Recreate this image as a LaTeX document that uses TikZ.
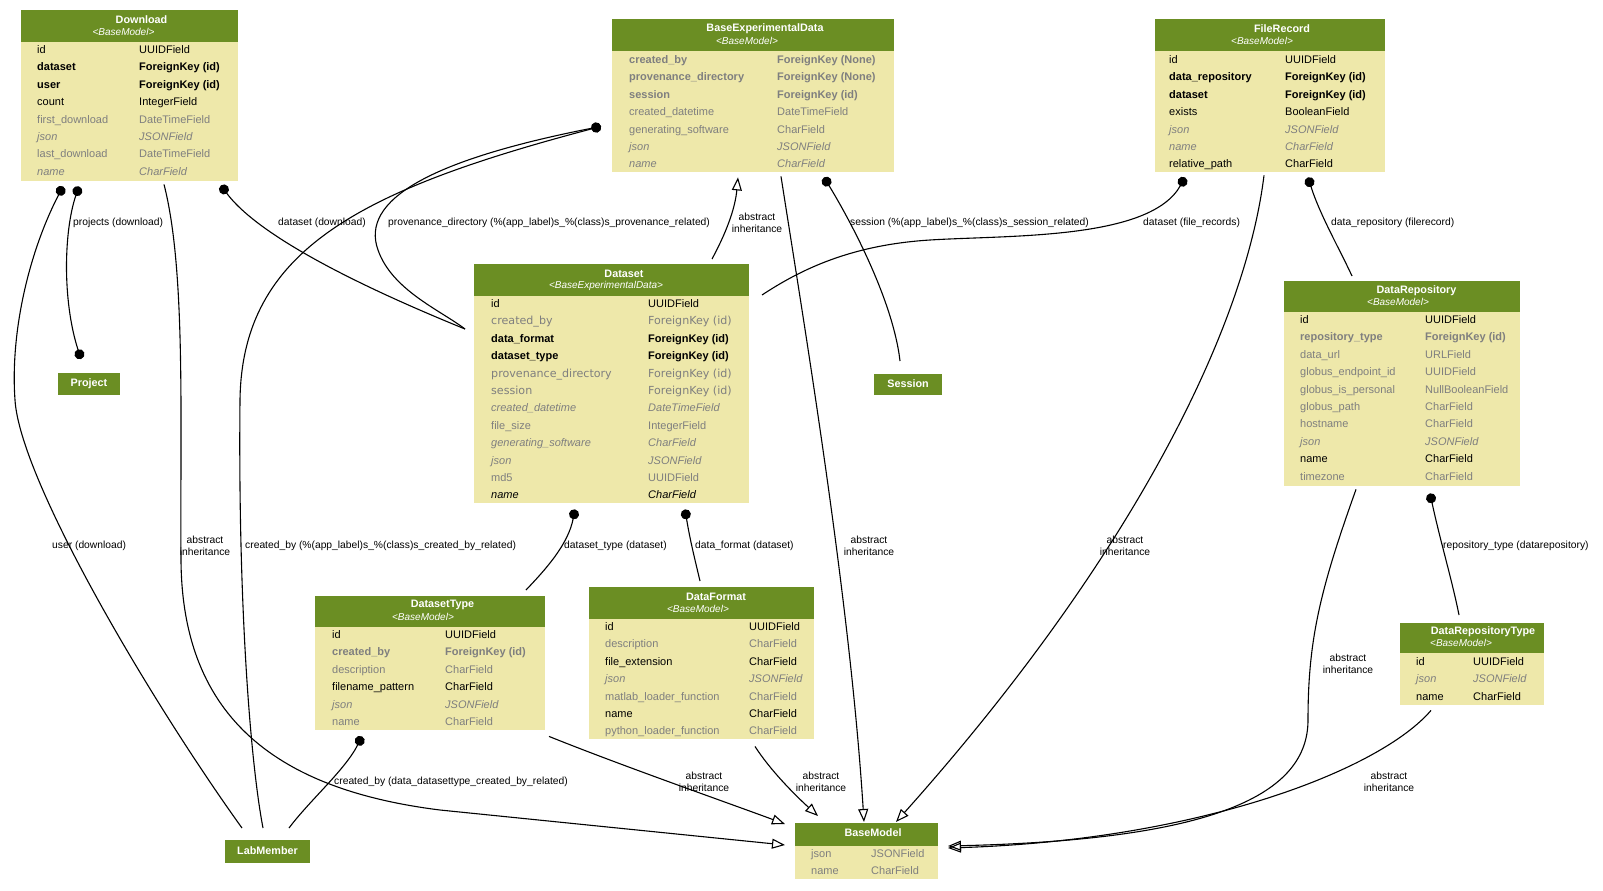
\documentclass[tikz,border=0pt]{standalone}
\usepackage{fontspec}
\setmainfont{Liberation Sans}
\newfontfamily\dvsans{DejaVu Sans}
\usetikzlibrary{arrows.meta}
\definecolor{hdrgreen}{HTML}{6B8E23}
\definecolor{bodyyel}{HTML}{EEE8AA}
\definecolor{tgrey}{HTML}{7F7F7F}
\newcommand{\tblfont}{\fontsize{11}{13}\selectfont}
\newcommand{\lblfont}{\fontsize{10.3}{12}\selectfont}
\newcounter{rw}
\newcommand{\frow}[6]{\stepcounter{rw}%
  \node[#4] (r\arabic{rw}a) at (#1,#3+2.5) {#5};%
  \node[#4] (r\arabic{rw}b) at (#2,#3+2.5) {#6};}
\tikzset{
  bdy/.style={fill=bodyyel, draw=none, inner sep=0pt, anchor=north west},
  hdr/.style={fill=hdrgreen, draw=none, inner sep=0pt, anchor=north west},
  ttl/.style={text=white, font=\fontsize{10.8}{12}\selectfont\bfseries, inner sep=0pt},
  sbt/.style={text=white, font=\fontsize{10}{12}\selectfont\itshape, inner sep=0pt},
  fld/.style={anchor=west, inner sep=0pt, text height=8pt, text depth=2.2pt},
  fk/.style={fld, font=\tblfont, text=black},
  fkb/.style={fld, font=\tblfont\bfseries, text=black},
  fki/.style={fld, font=\tblfont\itshape, text=black},
  fg/.style={fld, font=\tblfont, text=tgrey},
  fgi/.style={fld, font=\tblfont\itshape, text=tgrey},
  fgb/.style={fld, font=\tblfont\bfseries, text=tgrey},
  fdv/.style={fld, font=\dvsans\fontsize{11.1}{13}\selectfont, text=tgrey},
  conn/.style={draw=black, line width=1.1pt},
  inh/.style={-{Triangle[open,length=13pt,width=10pt]}},
  dotS/.style={{Circle[length=10pt]}-},
  dotE/.style={-{Circle[length=10pt]}},
  dotB/.style={{Circle[length=10pt]}-{Circle[length=10pt]}},
  elab/.style={font=\lblfont, inner sep=0pt, align=center},
  elw/.style={elab, anchor=west},
}
\begin{document}
\begin{tikzpicture}[x=1pt,y=-1pt]
\useasboundingbox[fill=white] (0,0) rectangle (1603,891);

% ---------- Download ----------
\node[bdy,minimum width=217pt,minimum height=171pt] (dl) at (21,10) {};
\node[hdr,minimum width=217pt,minimum height=32pt] (dlh) at (21,10) {};
\node[ttl] (dlt) at (141.5,19.5) {Download};
\node[sbt] (dls) at (123.5,31.5) {<BaseModel>};
\frow{37}{139}{48}{fk}{id}{UUIDField}
\frow{37}{139}{65.4}{fkb}{dataset}{ForeignKey (id)}
\frow{37}{139}{82.8}{fkb}{user}{ForeignKey (id)}
\frow{37}{139}{100.2}{fk}{count}{IntegerField}
\frow{37}{139}{117.6}{fg}{first\_download}{DateTimeField}
\frow{37}{139}{135}{fgi}{json}{JSONField}
\frow{37}{139}{152.4}{fg}{last\_download}{DateTimeField}
\frow{37}{139}{169.8}{fgi}{name}{CharField}

% ---------- BaseExperimentalData ----------
\node[bdy,minimum width=282pt,minimum height=153pt] (bed) at (612,19) {};
\node[hdr,minimum width=282pt,minimum height=32pt] (bedh) at (612,19) {};
\node[ttl] (bedt) at (765,28.5) {BaseExperimentalData};
\node[sbt] (beds) at (747,40.5) {<BaseModel>};
\frow{629}{777}{58}{fgb}{created\_by}{ForeignKey (None)}
\frow{629}{777}{75.4}{fgb}{provenance\_directory}{ForeignKey (None)}
\frow{629}{777}{92.8}{fgb}{session}{ForeignKey (id)}
\frow{629}{777}{110.2}{fg}{created\_datetime}{DateTimeField}
\frow{629}{777}{127.6}{fg}{generating\_software}{CharField}
\frow{629}{777}{145}{fgi}{json}{JSONField}
\frow{629}{777}{162.4}{fgi}{name}{CharField}

% ---------- FileRecord ----------
\node[bdy,minimum width=230pt,minimum height=153pt] (fr) at (1155,19) {};
\node[hdr,minimum width=230pt,minimum height=32pt] (frh) at (1155,19) {};
\node[ttl] (frt) at (1282,29) {FileRecord};
\node[sbt] (frs) at (1262,41) {<BaseModel>};
\frow{1169}{1285}{58}{fk}{id}{UUIDField}
\frow{1169}{1285}{75.4}{fkb}{data\_repository}{ForeignKey (id)}
\frow{1169}{1285}{92.8}{fkb}{dataset}{ForeignKey (id)}
\frow{1169}{1285}{110.2}{fk}{exists}{BooleanField}
\frow{1169}{1285}{127.6}{fgi}{json}{JSONField}
\frow{1169}{1285}{145}{fgi}{name}{CharField}
\frow{1169}{1285}{162.4}{fk}{relative\_path}{CharField}

% ---------- Dataset ----------
\node[bdy,minimum width=275pt,minimum height=239pt] (ds) at (474,264) {};
\node[hdr,minimum width=275pt,minimum height=32pt] (dsh) at (474,264) {};
\node[ttl] (dst0) at (624,274) {Dataset};
\node[sbt] (dss) at (606,285.5) {<BaseExperimentalData>};
\frow{491}{648}{302}{fk}{id}{UUIDField}
\frow{491}{648}{319.4}{fdv}{created\_by}{ForeignKey (id)}
\frow{491}{648}{336.8}{fkb}{data\_format}{ForeignKey (id)}
\frow{491}{648}{354.2}{fkb}{dataset\_type}{ForeignKey (id)}
\frow{491}{648}{371.6}{fdv}{provenance\_directory}{ForeignKey (id)}
\frow{491}{648}{389}{fdv}{session}{ForeignKey (id)}
\frow{491}{648}{406.4}{fgi}{created\_datetime}{DateTimeField}
\frow{491}{648}{423.8}{fg}{file\_size}{IntegerField}
\frow{491}{648}{441.2}{fgi}{generating\_software}{CharField}
\frow{491}{648}{458.6}{fgi}{json}{JSONField}
\frow{491}{648}{476}{fg}{md5}{UUIDField}
\frow{491}{648}{493.4}{fki}{name}{CharField}

% ---------- DataRepository ----------
\node[bdy,minimum width=236pt,minimum height=205pt] (drp) at (1284,281) {};
\node[hdr,minimum width=236pt,minimum height=31pt] (drph) at (1284,281) {};
\node[ttl] (drpt) at (1416.5,290.5) {DataRepository};
\node[sbt] (drps) at (1398,302) {<BaseModel>};
\frow{1300}{1425}{318}{fk}{id}{UUIDField}
\frow{1300}{1425}{335.4}{fgb}{repository\_type}{ForeignKey (id)}
\frow{1300}{1425}{352.8}{fg}{data\_url}{URLField}
\frow{1300}{1425}{370.2}{fg}{globus\_endpoint\_id}{UUIDField}
\frow{1300}{1425}{387.6}{fg}{globus\_is\_personal}{NullBooleanField}
\frow{1300}{1425}{405}{fg}{globus\_path}{CharField}
\frow{1300}{1425}{422.4}{fg}{hostname}{CharField}
\frow{1300}{1425}{439.8}{fgi}{json}{JSONField}
\frow{1300}{1425}{457.2}{fk}{name}{CharField}
\frow{1300}{1425}{474.6}{fg}{timezone}{CharField}

% ---------- DatasetType ----------
\node[bdy,minimum width=230pt,minimum height=134pt] (dst) at (315,596) {};
\node[hdr,minimum width=230pt,minimum height=31pt] (dsth) at (315,596) {};
\node[ttl] (dstt) at (442.5,605) {DatasetType};
\node[sbt] (dsts) at (423,616.5) {<BaseModel>};
\frow{332}{445}{633}{fk}{id}{UUIDField}
\frow{332}{445}{650.4}{fgb}{created\_by}{ForeignKey (id)}
\frow{332}{445}{667.8}{fg}{description}{CharField}
\frow{332}{445}{685.2}{fk}{filename\_pattern}{CharField}
\frow{332}{445}{702.6}{fgi}{json}{JSONField}
\frow{332}{445}{720}{fg}{name}{CharField}

% ---------- DataFormat ----------
\node[bdy,minimum width=225pt,minimum height=152pt] (dfm) at (589,587) {};
\node[hdr,minimum width=225pt,minimum height=32pt] (dfmh) at (589,587) {};
\node[ttl] (dfmt) at (716,597) {DataFormat};
\node[sbt] (dfms) at (698,608.5) {<BaseModel>};
\frow{605}{749}{625}{fk}{id}{UUIDField}
\frow{605}{749}{642.4}{fg}{description}{CharField}
\frow{605}{749}{659.8}{fk}{file\_extension}{CharField}
\frow{605}{749}{677.2}{fgi}{json}{JSONField}
\frow{605}{749}{694.6}{fg}{matlab\_loader\_function}{CharField}
\frow{605}{749}{712}{fk}{name}{CharField}
\frow{605}{749}{729.4}{fg}{python\_loader\_function}{CharField}

% ---------- DataRepositoryType ----------
\node[bdy,minimum width=144pt,minimum height=82pt] (drt) at (1400,623) {};
\node[hdr,minimum width=144pt,minimum height=30pt] (drth) at (1400,623) {};
\node[ttl] (drtt) at (1483,632) {DataRepositoryType};
\node[sbt] (drts) at (1461,643) {<BaseModel>};
\frow{1416}{1473}{660}{fk}{id}{UUIDField}
\frow{1416}{1473}{677.4}{fgi}{json}{JSONField}
\frow{1416}{1473}{694.8}{fk}{name}{CharField}

% ---------- BaseModel ----------
\node[bdy,minimum width=143pt,minimum height=56pt] (bm) at (795,823) {};
\node[hdr,minimum width=143pt,minimum height=23pt] (bmh) at (795,823) {};
\node[ttl] (bmt) at (873,833) {BaseModel};
\frow{811}{871}{852}{fg}{json}{JSONField}
\frow{811}{871}{869}{fg}{name}{CharField}

% ---------- simple nodes ----------
\node[hdr,minimum width=62pt,minimum height=22pt] (prj) at (58,373) {};
\node[ttl] (prjt) at (89,384) {Project};
\node[hdr,minimum width=68pt,minimum height=21pt] (ses) at (874,374) {};
\node[ttl] (sest) at (908,384) {Session};
\node[hdr,minimum width=85pt,minimum height=23pt] (lm) at (225,840) {};
\node[ttl] (lmt) at (267.5,851) {LabMember};

% ---------- connectors ----------
\draw[conn,dotB] ([shift={(58,5)}]dl.south west) .. controls (64,230) and (62,300) .. ([shift={(23,-14)}]prj.north west);
\draw[conn,dotS] ([shift={(42,5)}]dl.south west) .. controls (30,250) and (10,330) .. (15,400) .. controls (20,480) and (150,700) .. ([shift={(17,-12)}]lm.north west);
\draw[conn,inh] ([shift={(143,3)}]dl.south west) .. controls (186,270) and (180,420) .. (181,560) .. controls (182,720) and (280,790) .. (440,810) -- ([shift={(-10,22)}]bm.north west);
\draw[conn,dotS] ([shift={(200,4)}]dl.south west) .. controls (250,225) and (320,270) .. ([shift={(-9,65)}]ds.north west);
\draw[conn,dotS] ([shift={(-11,-46)}]bed.south west) .. controls (430,160) and (360,200) .. (378,250) .. controls (392,290) and (440,310) .. ([shift={(-9,65)}]ds.north west);
\draw[conn,dotS] ([shift={(-11,-46)}]bed.south west) .. controls (360,190) and (242,250) .. (240,400) .. controls (238,600) and (250,760) .. ([shift={(38,-12)}]lm.north west);
\draw[conn,inh] ([shift={(238,-5)}]ds.north west) .. controls (725,235) and (735,210) .. ([shift={(126,5)}]bed.south west);
\draw[conn,inh] ([shift={(169,4)}]bed.south west) .. controls (805,330) and (850,600) .. ([shift={(69,-1)}]bm.north west);
\draw[conn,dotS] ([shift={(212,5)}]bed.south west) .. controls (850,220) and (893,300) .. ([shift={(26,-13)}]ses.north west);
\draw[conn,dotS] ([shift={(30,5)}]fr.south west) .. controls (1150,240) and (1010,235) .. (930,240) .. controls (850,245) and (800,270) .. ([shift={(288,31)}]ds.north west);
\draw[conn,inh] ([shift={(109,3)}]fr.south west) .. controls (1245,330) and (1130,560) .. ([shift={(101,-1)}]bm.north west);
\draw[conn,dotS] ([shift={(153,5)}]fr.south west) .. controls (1320,215) and (1340,250) .. ([shift={(68,-5)}]drp.north west);
\draw[conn,inh] ([shift={(72,3)}]drp.south west) .. controls (1320,590) and (1308,640) .. (1308,720) .. controls (1308,800) and (1200,840) .. ([shift={(153,23)}]bm.north west);
\draw[conn,dotS] ([shift={(146,7)}]drp.south west) .. controls (1440,540) and (1452,580) .. ([shift={(59,-8)}]drt.north west);
\draw[conn,inh] ([shift={(31,5)}]drt.south west) .. controls (1380,770) and (1200,840) .. ([shift={(153,25)}]bm.north west);
\draw[conn,dotS] ([shift={(101,6)}]ds.south west) .. controls (568,545) and (545,570) .. ([shift={(211,-6)}]dst.north west);
\draw[conn,dotS] ([shift={(211,6)}]ds.south west) .. controls (690,540) and (695,560) .. ([shift={(111,-6)}]dfm.north west);
\draw[conn,inh] ([shift={(234,6)}]dst.south west) .. controls (620,765) and (720,800) .. ([shift={(-10,1)}]bm.north west);
\draw[conn,inh] ([shift={(166,7)}]dfm.south west) .. controls (770,770) and (795,795) .. ([shift={(23,-7)}]bm.north west);
\draw[conn,dotE] ([shift={(64,-12)}]lm.north west) .. controls (310,800) and (345,770) .. ([shift={(47,6)}]dst.south west);

% ---------- connector labels ----------
\node[elw] (l1) at (73,223) {projects (download)};
\node[elw] (l2) at (52,546) {user (download)};
\node[elab] (l3) at (205,545.5) {abstract\\inheritance};
\node[elw] (l4) at (278,223) {dataset (download)};
\node[elw] (l5) at (388,223) {provenance\_directory (\%(app\_label)s\_\%(class)s\_provenance\_related)};
\node[elw] (l6) at (245,546) {created\_by (\%(app\_label)s\_\%(class)s\_created\_by\_related)};
\node[elab] (l7) at (757,222.5) {abstract\\inheritance};
\node[elab] (l8) at (869,545.5) {abstract\\inheritance};
\node[elw] (l9) at (850,223) {session (\%(app\_label)s\_\%(class)s\_session\_related)};
\node[elw] (l10) at (1143,223) {dataset (file\_records)};
\node[elab] (l11) at (1125,545.5) {abstract\\inheritance};
\node[elw] (l12) at (1331,223) {data\_repository (filerecord)};
\node[elab] (l13) at (1348,663.5) {abstract\\inheritance};
\node[elw] (l14) at (1443,546) {repository\_type (datarepository)};
\node[elab] (l15) at (1389,781.5) {abstract\\inheritance};
\node[elw] (l16) at (564,546) {dataset\_type (dataset)};
\node[elw] (l17) at (695,546) {data\_format (dataset)};
\node[elab] (l18) at (704,781.5) {abstract\\inheritance};
\node[elab] (l19) at (821,781.5) {abstract\\inheritance};
\node[elw] (l20) at (334,782) {created\_by (data\_datasettype\_created\_by\_related)};
\end{tikzpicture}
\end{document}
